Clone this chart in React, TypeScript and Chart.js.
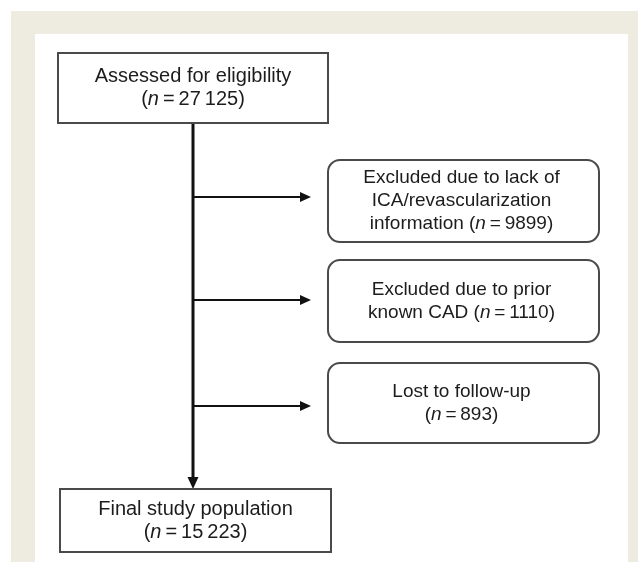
import React, { useEffect, useRef } from "react";
import { Chart, registerables } from "chart.js";

Chart.register(...registerables);

// ---- data ----
const stageLabels = ["Assessed for eligibility", "Final study population"];
const stageCounts = [27125, 15223];
const exclusionLabels = [
  ["Excluded due to lack of", "ICA/revascularization", "information"],
  ["Excluded due to prior", "known CAD"],
  ["Lost to follow-up"],
];
const exclusionCounts = [9899, 1110, 893];
const exclusionCountOwnLine = [false, false, true];

// ---- layout (diagram units) ----
const LAYOUT = {
  outer: [11, 11, 638, 562],
  inner: [35, 34, 628, 562],
  stageBoxes: [
    [58, 53, 328, 123],
    [60, 489, 331, 552],
  ],
  exclBoxes: [
    [328, 160, 599, 242],
    [328, 260, 599, 342],
    [328, 363, 599, 443],
  ],
  trunkX: 193,
  branchYs: [197, 300, 406],
  branchTipX: 311,
  headLen: 11,
  headHalf: 5,
  vHeadLen: 12,
  vHeadHalf: 5.5,
};

const STAGE_SIZE = 20;
const EXCL_SIZE = 19;
const LINE_H = 23;
const fontOf = (size: number, italic: boolean) =>
  (italic ? "italic " : "") + size + 'px "Liberation Sans", Arial, sans-serif';

function fmt(n: number) {
  const s = String(n);
  if (n < 10000) return s;
  return s.replace(/\B(?=(\d{3})+(?!\d))/g, "\u2009");
}

type Seg = { t: string; i: boolean };
function countSegs(prefix: string, n: number): Seg[] {
  return [
    { t: prefix + "(", i: false },
    { t: "n", i: true },
    { t: "\u2009=\u2009" + fmt(n) + ")", i: false },
  ];
}

function drawLine(ctx: CanvasRenderingContext2D, segs: Seg[], cx: number, cy: number, size: number) {
  let total = 0;
  const widths = segs.map((s) => {
    ctx.font = fontOf(size, s.i);
    const w = ctx.measureText(s.t).width;
    total += w;
    return w;
  });
  let x = cx - total / 2;
  segs.forEach((s, k) => {
    ctx.font = fontOf(size, s.i);
    ctx.fillText(s.t, x, cy);
    x += widths[k];
  });
}

function roundRect(ctx: CanvasRenderingContext2D, x0: number, y0: number, x1: number, y1: number, r: number) {
  ctx.beginPath();
  ctx.moveTo(x0 + r, y0);
  ctx.lineTo(x1 - r, y0);
  ctx.arcTo(x1, y0, x1, y0 + r, r);
  ctx.lineTo(x1, y1 - r);
  ctx.arcTo(x1, y1, x1 - r, y1, r);
  ctx.lineTo(x0 + r, y1);
  ctx.arcTo(x0, y1, x0, y1 - r, r);
  ctx.lineTo(x0, y0 + r);
  ctx.arcTo(x0, y0, x0 + r, y0, r);
  ctx.closePath();
}

const flowPlugin = {
  id: "flow",
  beforeDraw(chart: any) {
    const ctx = chart.ctx as CanvasRenderingContext2D;
    const xs = chart.scales.x;
    const ys = chart.scales.y;
    const px = (v: number) => xs.getPixelForValue(v);
    const py = (v: number) => ys.getPixelForValue(v);
    ctx.save();
    ctx.fillStyle = "#ffffff";
    ctx.fillRect(0, 0, chart.width, chart.height);
    const o = LAYOUT.outer;
    ctx.fillStyle = "#eeebe1";
    ctx.fillRect(px(o[0]), py(o[1]), px(o[2]) - px(o[0]), py(o[3]) - py(o[1]));
    const i = LAYOUT.inner;
    ctx.fillStyle = "#ffffff";
    ctx.fillRect(px(i[0]), py(i[1]), px(i[2]) - px(i[0]), py(i[3]) - py(i[1]));
    ctx.restore();
  },
  afterDatasetsDraw(chart: any) {
    const ctx = chart.ctx as CanvasRenderingContext2D;
    const xs = chart.scales.x;
    const ys = chart.scales.y;
    const px = (v: number) => xs.getPixelForValue(v);
    const py = (v: number) => ys.getPixelForValue(v);
    ctx.save();
    // arrowheads
    ctx.fillStyle = "#111";
    LAYOUT.branchYs.forEach((y) => {
      const tx = px(LAYOUT.branchTipX);
      const ty = py(y);
      ctx.beginPath();
      ctx.moveTo(tx, ty);
      ctx.lineTo(tx - LAYOUT.headLen, ty - LAYOUT.headHalf);
      ctx.lineTo(tx - LAYOUT.headLen, ty + LAYOUT.headHalf);
      ctx.closePath();
      ctx.fill();
    });
    {
      const tx = px(LAYOUT.trunkX);
      const ty = py(LAYOUT.stageBoxes[1][1]);
      ctx.beginPath();
      ctx.moveTo(tx, ty);
      ctx.lineTo(tx - LAYOUT.vHeadHalf, ty - LAYOUT.vHeadLen);
      ctx.lineTo(tx + LAYOUT.vHeadHalf, ty - LAYOUT.vHeadLen);
      ctx.closePath();
      ctx.fill();
    }
    // boxes
    ctx.lineWidth = 2;
    ctx.strokeStyle = "#4a4a4a";
    ctx.textBaseline = "middle";
    LAYOUT.stageBoxes.forEach((b, k) => {
      const x0 = px(b[0]), y0 = py(b[1]), x1 = px(b[2]), y1 = py(b[3]);
      ctx.fillStyle = "#ffffff";
      ctx.fillRect(x0, y0, x1 - x0, y1 - y0);
      ctx.strokeRect(x0, y0, x1 - x0, y1 - y0);
      const cx = (x0 + x1) / 2, cy = (y0 + y1) / 2;
      ctx.fillStyle = "#1c1c1c";
      drawLine(ctx, [{ t: stageLabels[k], i: false }], cx, cy - LINE_H / 2, STAGE_SIZE);
      drawLine(ctx, countSegs("", stageCounts[k]), cx, cy + LINE_H / 2, STAGE_SIZE);
    });
    LAYOUT.exclBoxes.forEach((b, k) => {
      const x0 = px(b[0]), y0 = py(b[1]), x1 = px(b[2]), y1 = py(b[3]);
      roundRect(ctx, x0, y0, x1, y1, 12);
      ctx.fillStyle = "#ffffff";
      ctx.fill();
      ctx.stroke();
      const lines: Seg[][] = exclusionLabels[k].map((t) => [{ t, i: false }]);
      if (exclusionCountOwnLine[k]) {
        lines.push(countSegs("", exclusionCounts[k]));
      } else {
        const last = lines.pop() as Seg[];
        lines.push(countSegs(last[0].t + " ", exclusionCounts[k]));
      }
      const cx = (x0 + x1) / 2 - 2, cy = (y0 + y1) / 2;
      ctx.fillStyle = "#1c1c1c";
      lines.forEach((segs, j) => {
        drawLine(ctx, segs, cx, cy + (j - (lines.length - 1) / 2) * LINE_H, EXCL_SIZE);
      });
    });
    ctx.restore();
  },
};

export default function App() {
  const ref = useRef<HTMLCanvasElement>(null);
  useEffect(() => {
    if (!ref.current) return;
    const trunkEnd = LAYOUT.stageBoxes[1][1] - LAYOUT.vHeadLen + 1;
    const datasets: any[] = [
      {
        data: [
          { x: LAYOUT.trunkX, y: LAYOUT.stageBoxes[0][3] },
          { x: LAYOUT.trunkX, y: trunkEnd },
        ],
        borderWidth: 3,
      },
      ...LAYOUT.branchYs.map((y) => ({
        data: [
          { x: LAYOUT.trunkX, y },
          { x: LAYOUT.branchTipX - LAYOUT.headLen + 1, y },
        ],
        borderWidth: 2,
      })),
    ].map((d) => ({
      ...d,
      showLine: true,
      borderColor: "#111",
      pointRadius: 0,
      fill: false,
      tension: 0,
    }));
    const chart = new Chart(ref.current, {
      type: "scatter",
      data: { datasets },
      options: {
        animation: false,
        responsive: false,
        maintainAspectRatio: false,
        devicePixelRatio: 1,
        layout: { padding: 0 },
        plugins: { legend: { display: false }, tooltip: { enabled: false } },
        events: [],
        scales: {
          x: { type: "linear", min: 0, max: 638, display: false },
          y: { type: "linear", min: 0, max: 562, reverse: true, display: false },
        },
      },
      plugins: [flowPlugin],
    });
    return () => chart.destroy();
  }, []);
  return (
    <div style={{ position: "fixed", left: 0, top: 0, width: 638, height: 562 }}>
      <canvas ref={ref} width={638} height={562} style={{ display: "block" }} />
    </div>
  );
}
